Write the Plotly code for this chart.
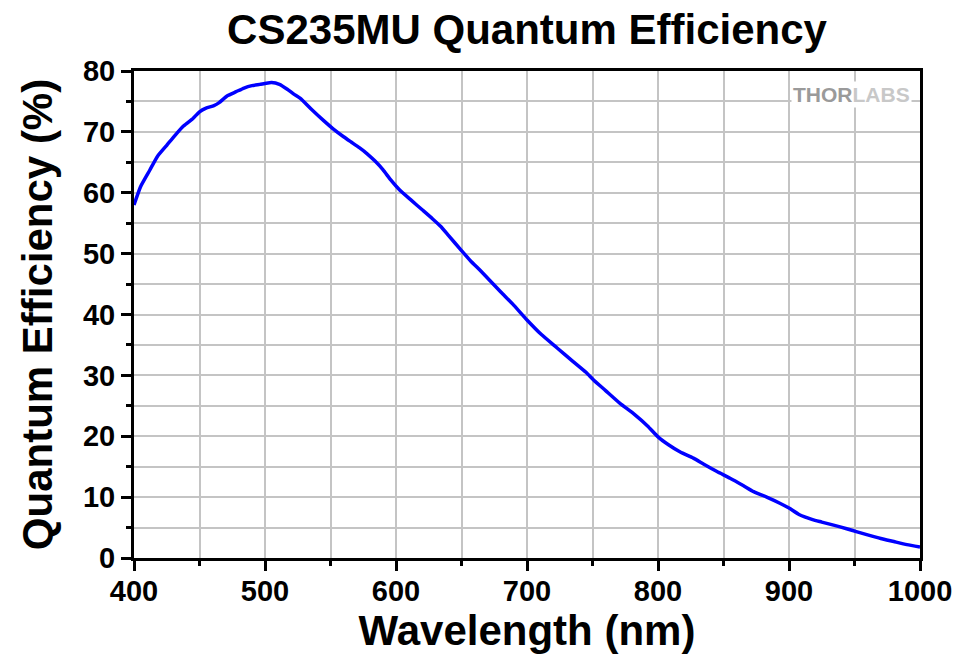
import plotly.graph_objects as go

wavelength_nm = [400, 405, 412, 418, 425, 432, 438, 445, 450, 455, 461, 465, 471, 478, 484, 490,
                 496, 501, 505, 511, 517, 522, 527, 535, 545, 552, 560, 566, 572, 578, 584, 590,
                 596, 603, 612, 620, 628, 634, 640, 650, 657, 664, 672, 680, 690, 700, 711, 723,
                 735, 745, 751, 760, 771, 782, 792, 800, 808, 817, 827, 835, 845, 855, 865, 873,
                 883, 893, 900, 908, 918, 925, 934, 944, 952, 960, 970, 980, 990, 1000]
qe_percent = [58.0, 61.0, 63.7, 66.0, 67.8, 69.6, 71.0, 72.2, 73.3, 73.9, 74.3, 74.8, 75.9, 76.6, 77.2, 77.6,
              77.8, 78.0, 78.1, 77.8, 77.0, 76.2, 75.5, 73.8, 71.8, 70.5, 69.2, 68.3, 67.4, 66.4, 65.2, 63.8,
              62.1, 60.4, 58.7, 57.2, 55.7, 54.5, 53.0, 50.5, 48.8, 47.3, 45.5, 43.7, 41.5, 39.1, 36.7, 34.5,
              32.3, 30.5, 29.2, 27.5, 25.4, 23.6, 21.7, 19.9, 18.6, 17.4, 16.4, 15.4, 14.2, 13.1, 11.9, 10.9,
              10.0, 9.0, 8.2, 7.1, 6.3, 5.9, 5.4, 4.8, 4.3, 3.8, 3.2, 2.7, 2.2, 1.8]

title_text = "CS235MU Quantum Efficiency"
x_title = "Wavelength (nm)"
y_title = "Quantum Efficiency (%)"

FONT = "Liberation Sans, Arial, sans-serif"
GRID = "#c4c4c4"

fig = go.Figure()
fig.add_trace(go.Scatter(x=wavelength_nm, y=qe_percent, mode="lines",
                         line=dict(color="#0000ff", width=3.5, shape="spline", smoothing=0.5),
                         showlegend=False, hoverinfo="skip"))

axis_common = dict(
    showline=True, linecolor="black", linewidth=3, mirror=True,
    ticks="outside", ticklen=10, tickwidth=3, tickcolor="black",
    showgrid=True, gridcolor=GRID, gridwidth=2,
    zeroline=False, automargin=False,
    tickfont=dict(family=FONT, size=29, color="black", weight="bold"),
    title_font=dict(family=FONT, size=42, color="black", weight="bold"),
)

fig.update_xaxes(range=[400, 1000], tick0=400, dtick=100, title_text=x_title, title_standoff=0,
                 ticklabelstandoff=-5,
                 minor=dict(dtick=50, ticks="outside", ticklen=5, tickwidth=3, tickcolor="black",
                            showgrid=True, gridcolor=GRID, gridwidth=2),
                 **axis_common)
fig.update_yaxes(range=[0, 80], tick0=0, dtick=10, title_text=y_title, title_standoff=18,
                 minor=dict(dtick=5, ticks="outside", ticklen=5, tickwidth=3, tickcolor="black",
                            showgrid=True, gridcolor=GRID, gridwidth=2),
                 **axis_common)

fig.add_annotation(xref="paper", yref="paper", x=0.99, y=0.952, xanchor="right", yanchor="middle",
                   text="<b>THOR</b><span style='color:#c8c8c8'><b>LABS</b></span>", showarrow=False,
                   bgcolor="white", borderpad=1,
                   font=dict(family=FONT, size=21, color="#9a9a9a"))

fig.update_layout(
    width=959, height=656,
    margin=dict(l=134, r=39, t=71, b=98),
    paper_bgcolor="white", plot_bgcolor="white",
    title=dict(text=title_text, x=0.5, xref="paper", xanchor="center", y=0.955, yanchor="middle",
               font=dict(family=FONT, size=42, color="black", weight="bold")),
)

fig.write_html("out.html", config={"displayModeBar": False},
               post_script="document.body.style.margin='0';document.body.style.padding='0';")
